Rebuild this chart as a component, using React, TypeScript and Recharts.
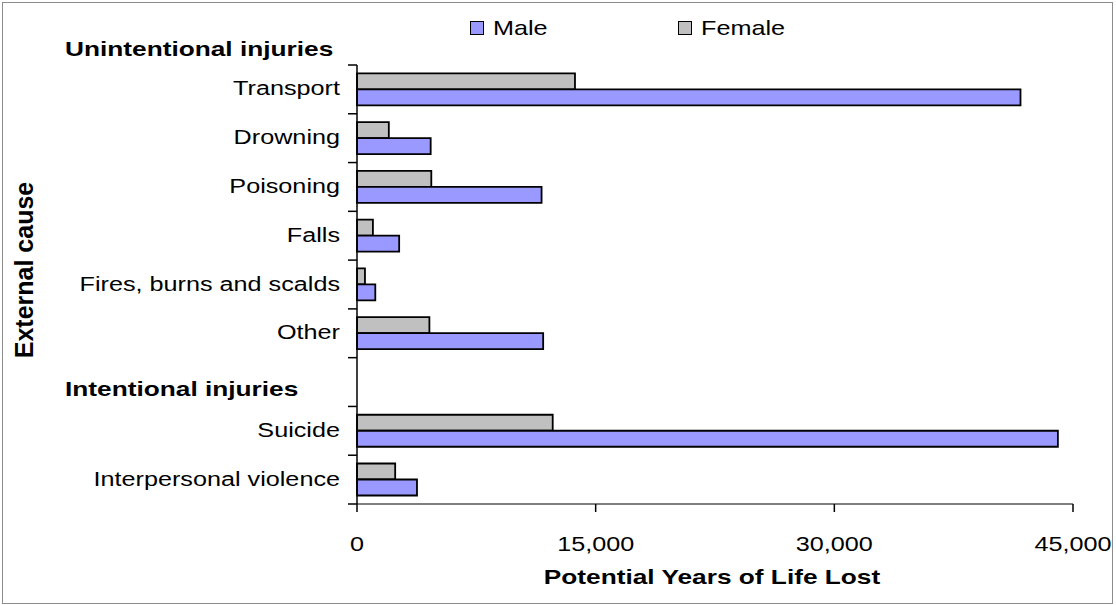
import React from "react";
import { BarChart, Bar, XAxis, YAxis } from "recharts";

// Potential years of life lost by external cause and sex
const causes = [
  "Transport",
  "Drowning",
  "Poisoning",
  "Falls",
  "Fires, burns and scalds",
  "Other",
  "Intentional injuries",
  "Suicide",
  "Interpersonal violence",
];
const maleYears = [41700, 4630, 11600, 2650, 1150, 11700, null, 44050, 3770];
const femaleYears = [13700, 2000, 4670, 1000, 500, 4550, null, 12300, 2400];
const headerRows = ["Intentional injuries"];
const topHeader = "Unintentional injuries";
const xTicks = [0, 15000, 30000, 45000];

const data = causes.map((cause, i) => ({
  cause,
  male: maleYears[i],
  female: femaleYears[i],
}));

const W = 1116;
const H = 605;
const PLOT_TOP = 65;
const PLOT_BOTTOM = 504;
const AXIS_X = 357;
const PLOT_RIGHT = 1073;
const BAND = (PLOT_BOTTOM - PLOT_TOP) / causes.length;
const FONT = "'Liberation Sans', Arial, sans-serif";
const STRETCH = 1.2;

const MALE = "#9999FF";
const FEMALE = "#C0C0C0";

const CauseTick = (props: any) => {
  const { x, y, index, payload } = props;
  const label = payload.value as string;
  const isHeader = headerRows.includes(label);
  return (
    <g>
      <line x1={AXIS_X - 9} x2={AXIS_X} y1={y - BAND / 2} y2={y - BAND / 2} stroke="#000" strokeWidth={1.5} />
      {index === causes.length - 1 && (
        <line x1={AXIS_X - 9} x2={AXIS_X} y1={y + BAND / 2} y2={y + BAND / 2} stroke="#000" strokeWidth={1.5} />
      )}
      {index === 0 && (
        <text
          transform={`translate(65,${y - 33}) scale(1.25,1)`}
          fontFamily={FONT}
          fontSize={21}
          fontWeight="bold"
          fill="#000"
        >
          {topHeader}
        </text>
      )}
      {isHeader ? (
        <text
          transform={`translate(65,${y + 14}) scale(1.25,1)`}
          fontFamily={FONT}
          fontSize={21}
          fontWeight="bold"
          fill="#000"
        >
          {label}
        </text>
      ) : (
        <text
          transform={`translate(${x},${y + 6}) scale(${STRETCH},1)`}
          textAnchor="end"
          fontFamily={FONT}
          fontSize={21}
          fill="#000"
        >
          {label}
        </text>
      )}
    </g>
  );
};

const YearsTick = (props: any) => {
  const { x, y, payload } = props;
  return (
    <text
      transform={`translate(${x},${y + 37}) scale(${STRETCH},1)`}
      textAnchor="middle"
      fontFamily={FONT}
      fontSize={21}
      fill="#000"
    >
      {Number(payload.value).toLocaleString("en-US")}
    </text>
  );
};

const LegendItem = ({ left, color, label }: { left: number; color: string; label: string }) => (
  <div style={{ position: "absolute", left, top: 20, display: "flex", alignItems: "center" }}>
    <div style={{ width: 12, height: 12, background: color, border: "1.5px solid #000" }} />
    <div
      style={{
        marginLeft: 9,
        fontFamily: FONT,
        fontSize: 21,
        lineHeight: "16px",
        transform: `scaleX(${STRETCH})`,
        transformOrigin: "left center",
      }}
    >
      {label}
    </div>
  </div>
);

export default function App() {
  return (
    <div style={{ position: "absolute", left: 0, top: 0, width: W, height: H, background: "#fff" }}>
      <div
        style={{
          position: "absolute",
          left: 2,
          top: 2,
          width: 1109,
          height: 600,
          border: "1px solid #8c8c8c",
        }}
      />
      <LegendItem left={470} color={MALE} label="Male" />
      <LegendItem left={678} color={FEMALE} label="Female" />
      <BarChart
        width={W}
        height={H}
        data={data}
        layout="vertical"
        margin={{ top: PLOT_TOP, right: W - PLOT_RIGHT, bottom: 0, left: 0 }}
        barCategoryGap="17%"
        barGap={0}
        style={{ position: "absolute", left: 0, top: 0 }}
      >
        <XAxis
          type="number"
          domain={[0, 45000]}
          ticks={xTicks}
          interval={0}
          height={H - PLOT_BOTTOM}
          tickSize={8}
          axisLine={{ stroke: "#555", strokeWidth: 1.5 }}
          tickLine={{ stroke: "#000", strokeWidth: 1.5 }}
          tick={<YearsTick />}
        />
        <YAxis
          type="category"
          dataKey="cause"
          width={AXIS_X}
          interval={0}
          tickSize={9}
          tickMargin={8}
          axisLine={{ stroke: "#000", strokeWidth: 1.5 }}
          tickLine={false}
          tick={<CauseTick />}
        />
        <Bar dataKey="female" name="Female" fill={FEMALE} stroke="#000" strokeWidth={1.8} isAnimationActive={false} />
        <Bar dataKey="male" name="Male" fill={MALE} stroke="#000" strokeWidth={1.8} isAnimationActive={false} />
        <text
          transform="translate(712,584) scale(1.25,1)"
          textAnchor="middle"
          fontFamily={FONT}
          fontSize={21}
          fontWeight="bold"
          fill="#000"
        >
          Potential Years of Life Lost
        </text>
        <text
          transform="translate(33,270) rotate(-90)"
          textAnchor="middle"
          fontFamily={FONT}
          fontSize={25}
          fontWeight="bold"
          fill="#000"
        >
          External cause
        </text>
      </BarChart>
    </div>
  );
}
